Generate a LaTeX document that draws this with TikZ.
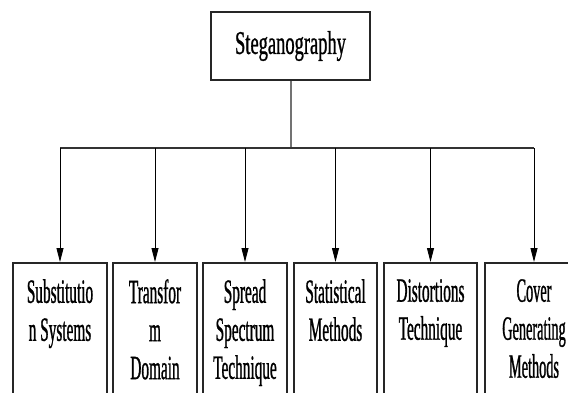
\documentclass[tikz,border=0pt]{standalone}
\usepackage{fontspec}
\setmainfont{Liberation Serif}
\newfontfamily\boxfont[FakeStretch=0.45,FakeBold=0.8]{Liberation Serif}
\newfontfamily\narrowfont[FakeStretch=0.42,FakeBold=0.8]{Liberation Serif}
\newfontfamily\titlefont[FakeStretch=0.56,FakeBold=0.8]{Liberation Serif}
\usetikzlibrary{arrows.meta}
\begin{document}
\begin{tikzpicture}[x=1pt,y=-1pt,
  box/.style={draw=black!85, line width=1.6pt, inner sep=0pt, anchor=north, minimum height=160pt},
  lbl/.style={font=\boxfont\fontsize{34}{38}\selectfont, align=center, anchor=north, inner sep=0pt, yshift=-17pt},
  arr/.style={-{Triangle[length=14pt,width=7pt]}, line width=0.9pt, draw=black},
  trunk/.style={line width=2pt, draw=black!55}]
\useasboundingbox (0,0) rectangle (568,392);
\clip (0,0) rectangle (568,392);
\node[draw=black!85, line width=1.6pt, minimum width=159pt, minimum height=68pt, inner sep=0pt,
      font=\titlefont\fontsize{33}{38}\selectfont] (title) at (290.5,46) {Steganography};
\node[box, minimum width=94pt] (b1) at (60,262) {};
\node[box, minimum width=84pt] (b2) at (155,262) {};
\node[box, minimum width=84pt] (b3) at (245,262) {};
\node[box, minimum width=83pt] (b4) at (335.5,262) {};
\node[box, minimum width=93pt] (b5) at (430.5,262) {};
\node[box, minimum width=98pt] (b6) at (534,262) {};
\node[lbl] (t1) at (b1.north) {Substitutio\\n Systems};
\node[lbl] (t2) at (b2.north) {Transfor\\m\\Domain};
\node[lbl] (t3) at (b3.north) {Spread\\Spectrum\\Technique};
\node[lbl] (t4) at (b4.north) {Statistical\\Methods};
\node[lbl] (t5) at (b5.north) {Distortions\\Technique};
\node[lbl, font=\narrowfont\fontsize{34}{38}\selectfont] (t6) at (b6.north) {Cover\\Generating\\Methods};
\coordinate (hub) at (290.5,148);
\draw[trunk] (title.south) -- (hub);
\draw[line width=2pt, draw=black!80] (b1.north |- hub) -- (b6.north |- hub);
\foreach \b in {b1,b2,b3,b4,b5,b6}
  \draw[arr] (\b.north |- hub) -- (\b.north);
\end{tikzpicture}
\end{document}
